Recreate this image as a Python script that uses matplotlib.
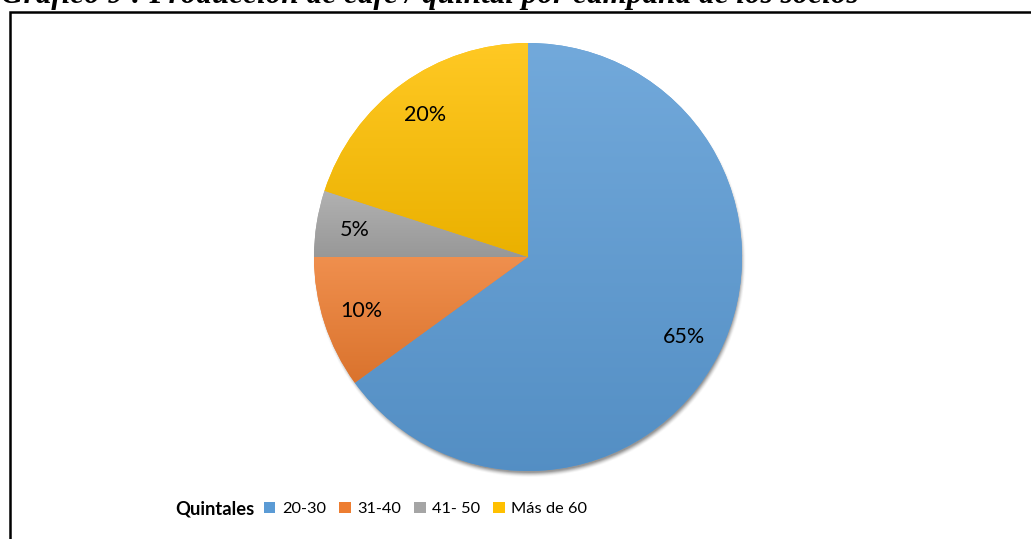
import numpy as np
import matplotlib
matplotlib.use("Agg")
import matplotlib.pyplot as plt
from matplotlib.colors import to_rgb
from matplotlib.patches import Rectangle

# Production per socio, in quintales per campaign
categories = ["20-30", "31-40", "41- 50", "Más de 60"]
shares = [65, 10, 5, 20]
colors = ["#5B9BD5", "#ED7D31", "#A5A5A5", "#FFC000"]
legend_title = "Quintales"
title = "Gráfico 9 : Producción de café / quintal por campaña de los socios"

W, H, DPI = 1031, 539, 100
fig = plt.figure(figsize=(W / DPI, H / DPI), dpi=DPI)
fig.patch.set_facecolor("white")

# Pie axes placed in pixel terms: centre (528, 257), radius 214 px
cx, cy, R = 528, 257, 214
lim = 1.12
half = lim * R
ax = fig.add_axes([(cx - half) / W, (H - cy - half) / H, 2 * half / W, 2 * half / H])

wedges, texts, autotexts = ax.pie(
    shares, colors=colors, startangle=90, counterclock=False,
    autopct="%1.0f%%", pctdistance=0.82,
    wedgeprops=dict(linewidth=0),
    textprops=dict(fontsize=15.5, family=["Lato", "DejaVu Sans"], color="black"),
)
ax.set_xlim(-lim, lim)
ax.set_ylim(-lim, lim)
ax.set_aspect("equal")
ax.axis("off")

# Soft drop shadow below the disc
n = 400
g = np.linspace(-lim, lim, n)
X, Y = np.meshgrid(g, g)
px = 1.0 / R
d = np.hypot(X - 1.5 * px, Y + 4 * px)
edge = 5 * px
alpha = np.clip((1.0 - d) / edge + 0.5, 0, 1) ** 1.5 * 0.55
shadow = np.zeros((n, n, 4))
shadow[..., :3] = 0.25
shadow[..., 3] = alpha
ax.imshow(shadow, extent=(-lim, lim, -lim, lim), origin="lower", zorder=0.5,
          interpolation="bilinear")

# Vertical light-to-dark gradient inside every wedge
for w, c in zip(wedges, colors):
    base = np.array(to_rgb(c))
    light = base + (1 - base) * 0.14
    dark = base * 0.92
    t = np.radians(np.linspace(w.theta1, w.theta2, 200))
    ys = np.concatenate([np.sin(t) * w.r, [0.0]])
    y0, y1 = ys.min(), ys.max()
    xs = np.concatenate([np.cos(t) * w.r, [0.0]])
    x0, x1 = xs.min(), xs.max()
    k = np.linspace(0, 1, 256)[:, None]
    grad = dark[None, :] * (1 - k) + light[None, :] * k
    img = np.repeat(grad[:, None, :], 2, axis=1)
    im = ax.imshow(img, extent=(x0, x1, y0, y1), origin="lower",
                   interpolation="bilinear", zorder=w.get_zorder() + 0.1,
                   aspect="auto")
    im.set_clip_path(w)
for t in autotexts:
    t.set_zorder(5)
ax.set_xlim(-lim, lim)
ax.set_ylim(-lim, lim)

# Legend row with the title on its left
fig.text(175 / W, 1 - 509 / H, legend_title, ha="left", va="center",
         fontweight="bold", family=["Lato", "DejaVu Sans"], size=13.2)
leg = fig.legend(
    wedges, categories, loc="center left",
    bbox_to_anchor=(264 / W, 1 - 509 / H), ncol=4, frameon=False,
    handlelength=0.7, handleheight=0.7, handletextpad=0.4,
    columnspacing=0.8, borderaxespad=0, borderpad=0,
    prop=dict(family=["Lato", "DejaVu Sans"], size=11.8),
)

# Chart frame, running off the right and bottom edges
fig.add_artist(Rectangle((10 / W, -0.05), 1.1, 1 - 11.5 / H + 0.05,
                         transform=fig.transFigure, fill=False,
                         edgecolor="black", linewidth=1.8))

# Caption above the frame (partly outside the canvas)
fig.text(1 / W, 1 - 3 / H, title, ha="left", va="baseline",
         family=["Liberation Serif", "DejaVu Serif"], style="italic",
         fontweight="bold", fontsize=22.5)

fig.savefig("out.png", dpi=DPI)
